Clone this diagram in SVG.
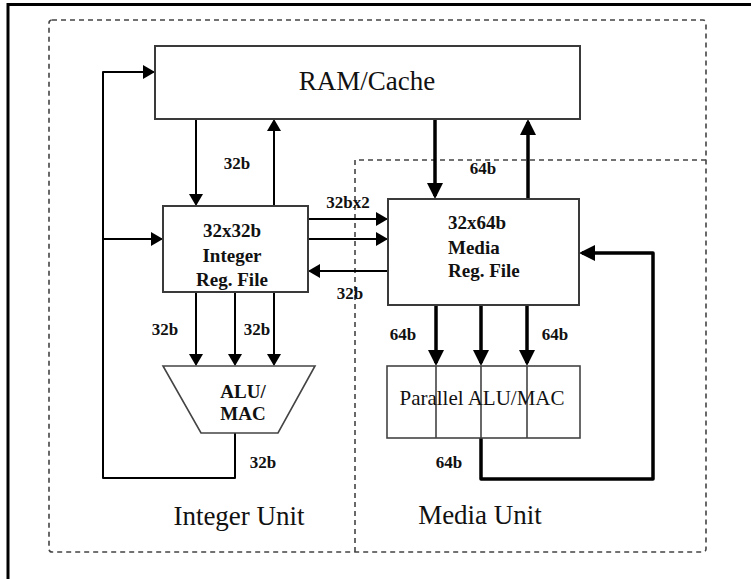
<svg xmlns="http://www.w3.org/2000/svg" width="751" height="579" viewBox="0 0 751 579">
<style>
.box{fill:#fff;stroke:#3a3a3a;stroke-width:2}
.pbox{fill:#fff;stroke:#444;stroke-width:1.6}
.dash{fill:none;stroke:#444;stroke-width:1.6;stroke-dasharray:5 4}
.thin{fill:none;stroke:#000;stroke-width:2;stroke-linejoin:round}
.thick{fill:none;stroke:#000;stroke-width:3.5;stroke-linejoin:round}
.big{font-family:"Liberation Serif",serif;font-size:27px;fill:#111}
.node{font-family:"Liberation Serif",serif;font-size:19px;font-weight:bold;fill:#111}
.lbl{font-family:"Liberation Serif",serif;font-size:17px;font-weight:bold;fill:#111}
.mid{text-anchor:middle}
</style>
<defs>
<marker id="ah" markerUnits="userSpaceOnUse" markerWidth="12" markerHeight="14" refX="10.5" refY="7" orient="auto">
<path d="M0,0 L12,7 L0,14 z" fill="#000"/>
</marker>
<marker id="ahb" markerUnits="userSpaceOnUse" markerWidth="16" markerHeight="16" refX="13" refY="8" orient="auto">
<path d="M0,0 L16,8 L0,16 z" fill="#000"/>
</marker>
</defs>
<rect width="751" height="579" fill="#fff"/>
<g id="frame">
<path d="M8,579 V4.5 H751" fill="none" stroke="#000" stroke-width="3"/>
</g>
<g id="integer-unit">
<rect class="dash" x="49" y="20" width="657" height="532" rx="3"/>
<text class="big mid" x="239" y="525">Integer Unit</text>
</g>
<g id="media-unit">
<path class="dash" d="M355,552 V160 H706"/>
<text class="big mid" x="480" y="524">Media Unit</text>
</g>
<g id="connectors">
<line class="thin" x1="196" y1="119" x2="196" y2="204.5" marker-end="url(#ah)"/>
<line class="thin" x1="274" y1="206" x2="274" y2="120.5" marker-end="url(#ah)"/>
<line class="thin" x1="308" y1="219" x2="386.5" y2="219" marker-end="url(#ah)"/>
<line class="thin" x1="308" y1="239" x2="386.5" y2="239" marker-end="url(#ah)"/>
<line class="thin" x1="388" y1="271" x2="309.5" y2="271" marker-end="url(#ah)"/>
<line class="thin" x1="196" y1="292" x2="196" y2="364.5" marker-end="url(#ah)"/>
<line class="thin" x1="235" y1="292" x2="235" y2="364.5" marker-end="url(#ah)"/>
<line class="thin" x1="274" y1="292" x2="274" y2="364.5" marker-end="url(#ah)"/>
<path class="thin" d="M235,433 V478 H103 V72 H153.5" marker-end="url(#ah)"/>
<line class="thin" x1="103" y1="239" x2="161.5" y2="239" marker-end="url(#ah)"/>
<line class="thick" x1="435" y1="119" x2="435" y2="196" marker-end="url(#ahb)"/>
<line class="thick" x1="528" y1="199" x2="528" y2="122" marker-end="url(#ahb)"/>
<line class="thick" x1="436" y1="305" x2="436" y2="363" marker-end="url(#ahb)"/>
<line class="thick" x1="481" y1="305" x2="481" y2="363" marker-end="url(#ahb)"/>
<line class="thick" x1="527" y1="305" x2="527" y2="363" marker-end="url(#ahb)"/>
<path class="thick" d="M481,438 V479 H653 V253 H582" marker-end="url(#ahb)"/>
</g>
<g id="labels">
<text class="lbl mid" x="237" y="169">32b</text>
<text class="lbl mid" x="483" y="174">64b</text>
<text class="lbl mid" x="348" y="208">32bx2</text>
<text class="lbl mid" x="350" y="299">32b</text>
<text class="lbl mid" x="165" y="335">32b</text>
<text class="lbl mid" x="257" y="335">32b</text>
<text class="lbl mid" x="263" y="468">32b</text>
<text class="lbl mid" x="403" y="340">64b</text>
<text class="lbl mid" x="555" y="340">64b</text>
<text class="lbl mid" x="449" y="468">64b</text>
</g>
<g id="ram-cache">
<rect class="box" x="155" y="46" width="425" height="73"/>
<text class="big mid" x="367" y="90">RAM/Cache</text>
</g>
<g id="integer-reg-file">
<rect class="box" x="163" y="206" width="145" height="86"/>
<text class="node mid" x="232" y="237">32x32b</text>
<text class="node mid" x="232" y="262">Integer</text>
<text class="node mid" x="232" y="286">Reg. File</text>
</g>
<g id="media-reg-file">
<rect class="box" x="388" y="199" width="191" height="106"/>
<text class="node" x="448" y="229">32x64b</text>
<text class="node" x="448" y="254">Media</text>
<text class="node" x="448" y="277">Reg. File</text>
</g>
<g id="alu-mac">
<polygon class="pbox" points="163,366 315,366 278,433 201,433"/>
<text class="node mid" x="243" y="398">ALU/</text>
<text class="node mid" x="243" y="420">MAC</text>
</g>
<g id="parallel-alu-mac">
<rect class="pbox" x="387" y="366" width="193" height="72"/>
<path d="M436,366 V438 M481,366 V438 M527,366 V438" stroke="#444" stroke-width="1.6"/>
<text class="mid" x="482" y="405" font-family="Liberation Serif, serif" font-size="21" fill="#111">Parallel ALU/MAC</text>
</g>
</svg>
